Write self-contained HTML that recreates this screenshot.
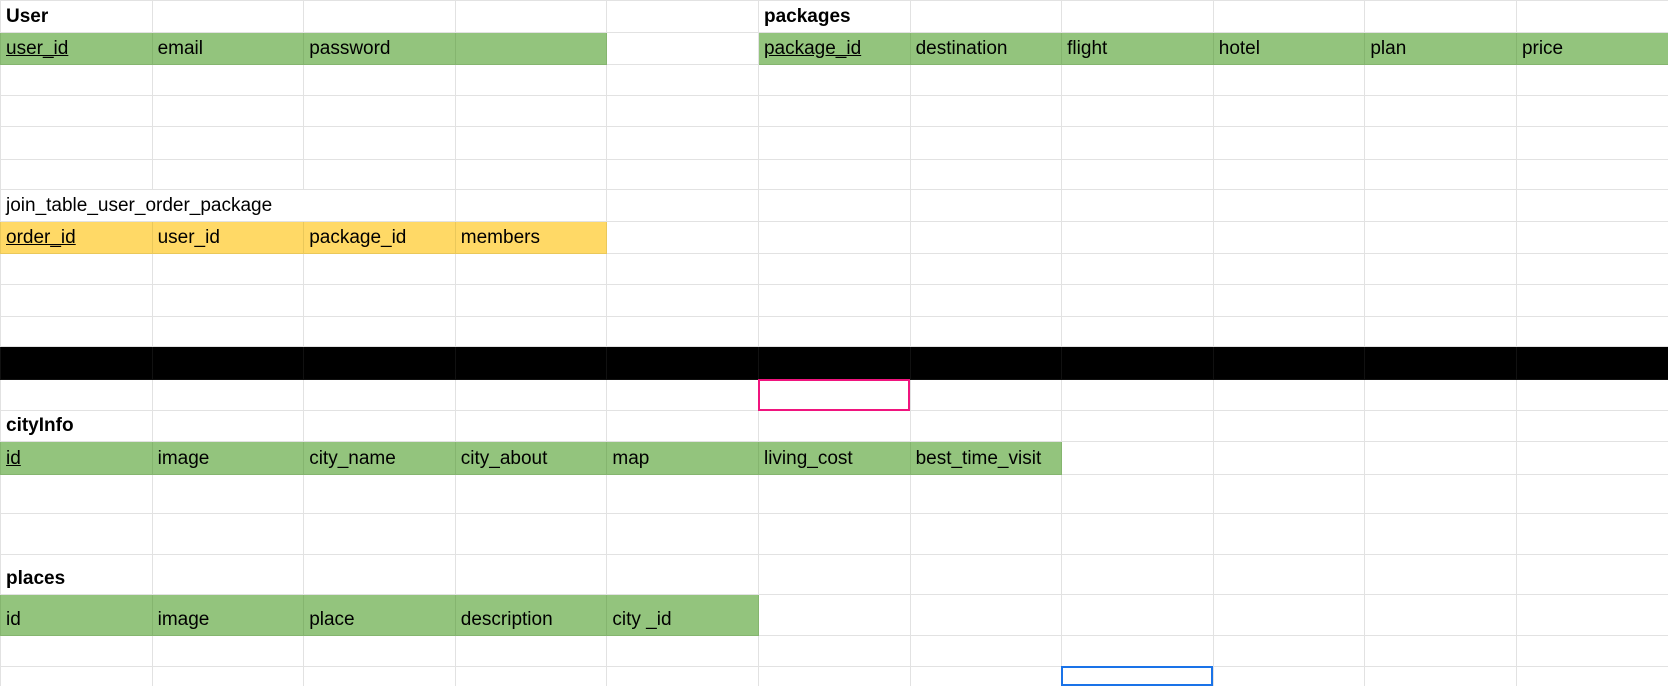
<!DOCTYPE html>
<html><head><meta charset="utf-8"><style>
html,body{margin:0;padding:0;background:#fff;width:1668px;height:672px;overflow:hidden}
table{border-collapse:collapse;table-layout:fixed;width:1668px;font-family:"Liberation Sans",Arial,sans-serif;font-size:19px;color:#000}
td{border:1px solid #e2e2e2;padding:0 5px 4px 5px;vertical-align:bottom;white-space:nowrap;overflow:hidden;box-sizing:border-box}
.g{background:#93c47d;border-color:#85b56f}
.y{background:#ffd966;border-color:#eac85a}
.k td{background:#000;border-color:#111}
.b{font-weight:bold}
u{text-decoration:underline}
.box{position:absolute;box-sizing:border-box}
</style></head><body>
<table>
<colgroup><col span="11" style="width:151.6px"></colgroup>
<tr style="height:32px"><td class="b">User</td><td></td><td></td><td></td><td></td><td class="b">packages</td><td></td><td></td><td></td><td></td><td></td></tr>
<tr style="height:32px"><td class="g"><u>user_id</u></td><td class="g">email</td><td class="g">password</td><td class="g"></td><td></td><td class="g"><u>package_id</u></td><td class="g">destination</td><td class="g">flight</td><td class="g">hotel</td><td class="g">plan</td><td class="g">price</td></tr>
<tr style="height:31px"><td></td><td></td><td></td><td></td><td></td><td></td><td></td><td></td><td></td><td></td><td></td></tr>
<tr style="height:31px"><td></td><td></td><td></td><td></td><td></td><td></td><td></td><td></td><td></td><td></td><td></td></tr>
<tr style="height:33px"><td></td><td></td><td></td><td></td><td></td><td></td><td></td><td></td><td></td><td></td><td></td></tr>
<tr style="height:30px"><td></td><td></td><td></td><td></td><td></td><td></td><td></td><td></td><td></td><td></td><td></td></tr>
<tr style="height:32px"><td colspan="3">join_table_user_order_package</td><td></td><td></td><td></td><td></td><td></td><td></td><td></td><td></td></tr>
<tr style="height:32px"><td class="y"><u>order_id</u></td><td class="y">user_id</td><td class="y">package_id</td><td class="y">members</td><td></td><td></td><td></td><td></td><td></td><td></td><td></td></tr>
<tr style="height:31px"><td></td><td></td><td></td><td></td><td></td><td></td><td></td><td></td><td></td><td></td><td></td></tr>
<tr style="height:32px"><td></td><td></td><td></td><td></td><td></td><td></td><td></td><td></td><td></td><td></td><td></td></tr>
<tr style="height:30px"><td></td><td></td><td></td><td></td><td></td><td></td><td></td><td></td><td></td><td></td><td></td></tr>
<tr class="k" style="height:33px"><td></td><td></td><td></td><td></td><td></td><td></td><td></td><td></td><td></td><td></td><td></td></tr>
<tr style="height:31px"><td></td><td></td><td></td><td></td><td></td><td></td><td></td><td></td><td></td><td></td><td></td></tr>
<tr style="height:31px"><td class="b">cityInfo</td><td></td><td></td><td></td><td></td><td></td><td></td><td></td><td></td><td></td><td></td></tr>
<tr style="height:33px"><td class="g"><u>id</u></td><td class="g">image</td><td class="g">city_name</td><td class="g">city_about</td><td class="g">map</td><td class="g">living_cost</td><td class="g">best_time_visit</td><td></td><td></td><td></td><td></td></tr>
<tr style="height:39px"><td></td><td></td><td></td><td></td><td></td><td></td><td></td><td></td><td></td><td></td><td></td></tr>
<tr style="height:41px"><td></td><td></td><td></td><td></td><td></td><td></td><td></td><td></td><td></td><td></td><td></td></tr>
<tr style="height:40px"><td class="b">places</td><td></td><td></td><td></td><td></td><td></td><td></td><td></td><td></td><td></td><td></td></tr>
<tr style="height:41px"><td class="g">id</td><td class="g">image</td><td class="g">place</td><td class="g">description</td><td class="g">city _id</td><td></td><td></td><td></td><td></td><td></td><td></td></tr>
<tr style="height:31px"><td></td><td></td><td></td><td></td><td></td><td></td><td></td><td></td><td></td><td></td><td></td></tr>
<tr style="height:20px"><td></td><td></td><td></td><td></td><td></td><td></td><td></td><td></td><td></td><td></td><td></td></tr>
</table>
<div class="box" style="left:758px;top:379px;width:152px;height:32px;border:2px solid #f0147e"></div>
<div class="box" style="left:1061px;top:666px;width:152px;height:20px;border:2px solid #1a73e8"></div>
</body></html>
